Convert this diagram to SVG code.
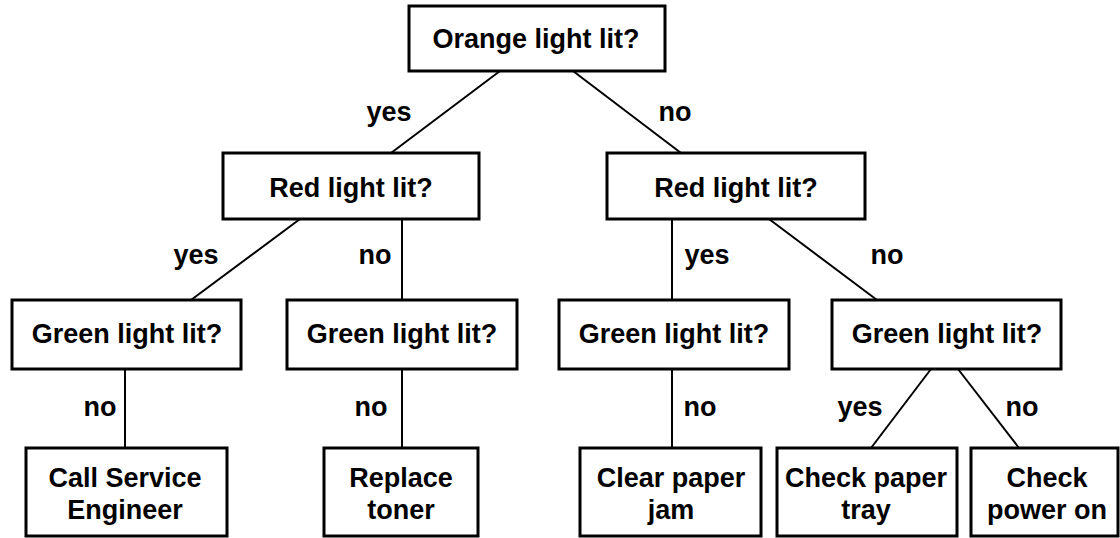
<svg xmlns="http://www.w3.org/2000/svg" width="1120" height="538" viewBox="0 0 1120 538">
<style>
rect.box{fill:#fff;stroke:#000;stroke-width:3}
text{font-family:"Liberation Sans",Arial,sans-serif;font-weight:bold;font-size:27px;fill:#000;text-anchor:middle}
#connectors line{stroke:#000;stroke-width:2}
</style>
<rect width="1120" height="538" fill="#fff"/>
<g id="connectors">
<line x1="500" y1="71" x2="391" y2="153"/>
<line x1="573" y1="71" x2="681" y2="153"/>
<line x1="300" y1="219" x2="191" y2="300"/>
<line x1="402" y1="219" x2="402" y2="300"/>
<line x1="672" y1="219" x2="672" y2="300"/>
<line x1="769" y1="219" x2="877" y2="300"/>
<line x1="125" y1="369" x2="125" y2="448"/>
<line x1="402" y1="369" x2="402" y2="448"/>
<line x1="672" y1="369" x2="672" y2="448"/>
<line x1="931" y1="369" x2="871" y2="448"/>
<line x1="958" y1="369" x2="1019" y2="448"/>
</g>
<g id="labels">
<text x="389" y="121">yes</text>
<text x="675" y="121">no</text>
<text x="196" y="264">yes</text>
<text x="375" y="264">no</text>
<text x="707" y="264">yes</text>
<text x="887" y="264">no</text>
<text x="100" y="416">no</text>
<text x="371" y="416">no</text>
<text x="700" y="416">no</text>
<text x="860" y="416">yes</text>
<text x="1022" y="416">no</text>
</g>
<g id="orange">
<rect class="box" x="409" y="6" width="256" height="65"/>
<text x="536" y="48">Orange light lit?</text>
</g>
<g id="red-left">
<rect class="box" x="223" y="153" width="256" height="66"/>
<text x="351" y="197">Red light lit?</text>
</g>
<g id="red-right">
<rect class="box" x="607" y="153" width="258" height="66"/>
<text x="736" y="197">Red light lit?</text>
</g>
<g id="green-1">
<rect class="box" x="12" y="300" width="229" height="69"/>
<text x="127" y="343">Green light lit?</text>
</g>
<g id="green-2">
<rect class="box" x="287" y="300" width="230" height="69"/>
<text x="402" y="343">Green light lit?</text>
</g>
<g id="green-3">
<rect class="box" x="559" y="300" width="230" height="69"/>
<text x="674" y="343">Green light lit?</text>
</g>
<g id="green-4">
<rect class="box" x="832" y="300" width="229" height="69"/>
<text x="947" y="343">Green light lit?</text>
</g>
<g id="call-engineer">
<rect class="box" x="26" y="448" width="201" height="88"/>
<text x="125" y="487">Call Service</text>
<text x="125" y="519">Engineer</text>
</g>
<g id="replace-toner">
<rect class="box" x="324" y="448" width="154" height="88"/>
<text x="401" y="487">Replace</text>
<text x="401" y="519">toner</text>
</g>
<g id="clear-jam">
<rect class="box" x="580" y="448" width="181" height="88"/>
<text x="671" y="487">Clear paper</text>
<text x="671" y="519">jam</text>
</g>
<g id="check-tray">
<rect class="box" x="777" y="448" width="180" height="88"/>
<text x="866" y="487">Check paper</text>
<text x="866" y="519">tray</text>
</g>
<g id="check-power">
<rect class="box" x="971" y="448" width="147" height="88"/>
<text x="1047" y="487">Check</text>
<text x="1047" y="519">power on</text>
</g>
</svg>
